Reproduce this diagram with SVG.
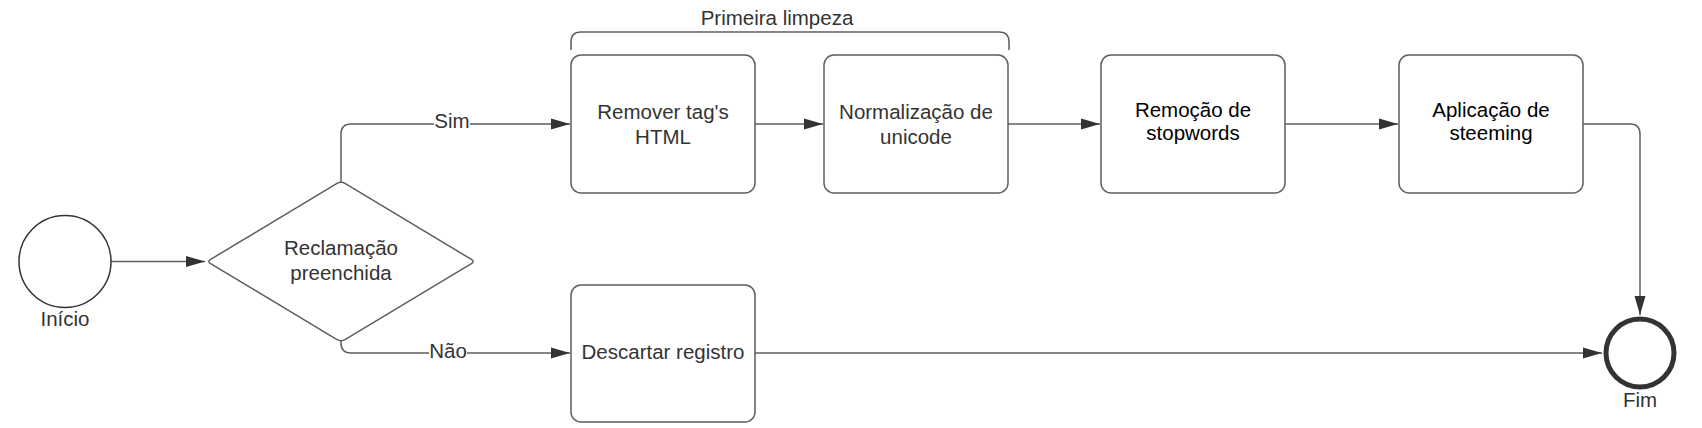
<svg xmlns="http://www.w3.org/2000/svg" width="1702" height="428" viewBox="0 0 1702 428">
<style>
.box{fill:#fff;stroke:#5e5e5e;stroke-width:1.5}
.t{font-family:"Liberation Sans",Arial,sans-serif;font-size:20.5px;fill:#333;text-anchor:middle}
.tb{font-family:"Liberation Sans",Arial,sans-serif;font-size:20.5px;fill:#000;text-anchor:middle}
.c{fill:none;stroke:#5e5e5e;stroke-width:1.5}
.lbl{fill:#fff}
</style>
<defs>
<marker id="ah" markerUnits="userSpaceOnUse" markerWidth="20" markerHeight="12" refX="19" refY="6" orient="auto">
<path d="M0,0.5 L19,6 L0,11.5 Z" fill="#333"/>
</marker>
</defs>
<rect width="1702" height="428" fill="#fff"/>
<g id="connectors">
<path class="c" d="M111,261.5 H205" marker-end="url(#ah)"/>
<path class="c" d="M341,183 V134 Q341,124 351,124 H570" marker-end="url(#ah)"/>
<path class="c" d="M341,340 V343 Q341,353 351,353 H570" marker-end="url(#ah)"/>
<path class="c" d="M755,124 H823" marker-end="url(#ah)"/>
<path class="c" d="M1008,124 H1100" marker-end="url(#ah)"/>
<path class="c" d="M1285,124 H1398" marker-end="url(#ah)"/>
<path class="c" d="M1583,124 H1630 Q1640,124 1640,134 V315" marker-end="url(#ah)"/>
<path class="c" d="M755,353 H1602" marker-end="url(#ah)"/>
<rect class="lbl" x="434" y="112" width="36" height="24"/>
<text class="t" x="452" y="128">Sim</text>
<rect class="lbl" x="429" y="341" width="38" height="24"/>
<text class="t" x="448" y="358">Não</text>
</g>
<g id="bracket">
<path class="c" d="M571,50 V42 Q571,32 581,32 H999 Q1009,32 1009,42 V50"/>
<text class="t" x="777" y="25">Primeira limpeza</text>
</g>
<g id="inicio">
<circle cx="65" cy="261.5" r="46" fill="#fff" stroke="#333" stroke-width="1.5"/>
<text class="t" x="65" y="326">Início</text>
</g>
<g id="decisao">
<path class="box" d="M210.6,259.4 L336.6,183.6 Q341,181 345.4,183.6 L471.4,259.4 Q475,261.5 471.4,263.6 L345.4,339.4 Q341,342 336.6,339.4 L210.6,263.6 Q207,261.5 210.6,259.4 Z"/>
<text class="t" x="341" y="255">Reclamação</text>
<text class="t" x="341" y="280">preenchida</text>
</g>
<g id="remover">
<rect class="box" x="571" y="55" width="184" height="138" rx="10"/>
<text class="t" x="663" y="119">Remover tag's</text>
<text class="t" x="663" y="144">HTML</text>
</g>
<g id="normalizacao">
<rect class="box" x="824" y="55" width="184" height="138" rx="10"/>
<text class="t" x="916" y="119">Normalização de</text>
<text class="t" x="916" y="144">unicode</text>
</g>
<g id="remocao">
<rect class="box" x="1101" y="55" width="184" height="138" rx="10"/>
<text class="tb" x="1193" y="117">Remoção de</text>
<text class="tb" x="1193" y="140">stopwords</text>
</g>
<g id="aplicacao">
<rect class="box" x="1399" y="55" width="184" height="138" rx="10"/>
<text class="tb" x="1491" y="117">Aplicação de</text>
<text class="tb" x="1491" y="140">steeming</text>
</g>
<g id="descartar">
<rect class="box" x="571" y="285" width="184" height="137" rx="10"/>
<text class="t" x="663" y="359">Descartar registro</text>
</g>
<g id="fim">
<circle cx="1640" cy="353" r="34" fill="#fff" stroke="#333" stroke-width="5"/>
<text class="t" x="1640" y="407">Fim</text>
</g>
</svg>
